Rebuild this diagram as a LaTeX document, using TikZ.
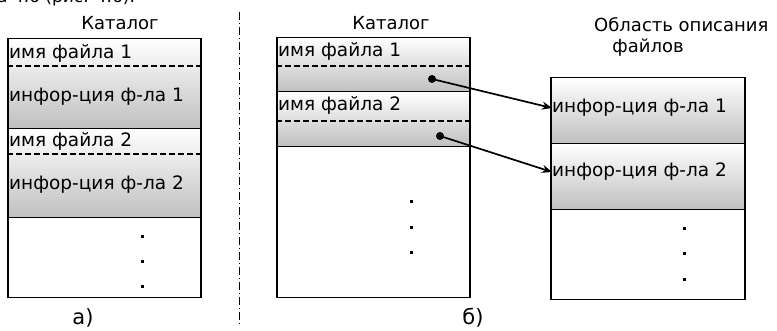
\documentclass[tikz,border=0pt]{standalone}
\usepackage{fontspec}
\setmainfont{DejaVu Sans}
\usetikzlibrary{arrows.meta}
\tikzset{
  lbl/.style={font=\fontsize{18.5}{21}\selectfont, inner sep=0pt},
  ttl/.style={font=\fontsize{18}{21}\selectfont, inner sep=0pt},
  sub/.style={font=\fontsize{21}{24}\selectfont, inner sep=0pt},
  entry/.style={draw, line width=1.5pt, top color=white, bottom color=black!25, minimum width=#1, anchor=north west, inner sep=0pt},
  blank/.style={draw, line width=1.5pt, fill=white, minimum width=#1, anchor=north west, inner sep=0pt},
  sep/.style={line width=1.1pt, dash pattern=on 6pt off 3pt},
  dotmark/.style={fill=black, minimum size=3pt, inner sep=0pt},
  ptr/.style={line width=1.7pt, -{Stealth[length=10pt, width=8pt]}},
}
\begin{document}
\begin{tikzpicture}[x=1pt, y=-1pt]
\useasboundingbox (0,0) rectangle (777,331);
% running text of the page above, cut by the frame
\begin{scope}
\clip (0,0) rectangle (777,331);
\node[font=\fontsize{17}{20}\selectfont, anchor=base west, inner sep=0pt] (page) at (-3,3) {а 4.6 (рис. 4.6).};
\end{scope}

% ---- a) catalogue with embedded descriptions ----
\node[ttl] (ta) at (120,23) {Каталог};
\node[entry=193pt, minimum height=90pt] (a1) at (7,38) {};
\node[entry=193pt, minimum height=89pt] (a2) at (7,128) {};
\node[blank=193pt, minimum height=80pt] (a3) at (7,217) {};
\draw[sep] (7,66) -- (200,66);
\draw[sep] (7,154) -- (200,154);
\node[lbl, anchor=west] (an1) at (9,53) {имя файла 1};
\node[lbl, anchor=west] (ai1) at (9,97) {инфор-ция ф-ла 1};
\node[lbl, anchor=west] (an2) at (9,141) {имя файла 2};
\node[lbl, anchor=west] (ai2) at (9,185) {инфор-ция ф-ла 2};
\node[dotmark] (ad1) at (142,237) {};
\node[dotmark] (ad2) at (142,262) {};
\node[dotmark] (ad3) at (142,287) {};
\node[sub] (la) at (83,318) {а)};

% ---- dividing line ----
\coordinate (d1) at (239,12);
\coordinate (d2) at (239,326);
\draw[line width=0.9pt, dash pattern=on 8pt off 3pt on 1pt off 3pt] (d1) -- (d2);

% ---- b) catalogue with pointers ----
\node[ttl] (tb) at (391,23) {Каталог};
\node[entry=193pt, minimum height=54pt] (b1) at (276,37) {};
\node[entry=193pt, minimum height=55pt] (b2) at (276,91) {};
\node[blank=193pt, minimum height=151pt] (b3) at (276,146) {};
\draw[sep] (276,66) -- (469,66);
\draw[sep] (276,121) -- (469,121);
\node[lbl, anchor=west] (bn1) at (278,51) {имя файла 1};
\node[lbl, anchor=west] (bn2) at (278,105) {имя файла 2};
\node[dotmark] (bd1) at (411,202) {};
\node[dotmark] (bd2) at (411,228) {};
\node[dotmark] (bd3) at (411,253) {};
\node[sub] (lb) at (473,318) {б)};

% ---- file description area ----
\node[ttl, anchor=west] (tc1) at (594,25) {Область описания};
\node[ttl] (tc2) at (648,48) {файлов};
\node[entry=194pt, minimum height=66pt] (c1) at (550,77) {};
\node[entry=194pt, minimum height=66pt] (c2) at (550,143) {};
\node[blank=194pt, minimum height=90pt] (c3) at (550,209) {};
\node[lbl, anchor=west] (ci1) at (552,108) {инфор-ция ф-ла 1};
\node[lbl, anchor=west] (ci2) at (552,172) {инфор-ция ф-ла 2};
\node[dotmark] (cd1) at (684,229) {};
\node[dotmark] (cd2) at (684,254) {};
\node[dotmark] (cd3) at (684,280) {};

% ---- pointers ----
\node[circle, fill=black, minimum size=8pt, inner sep=0pt] (p1) at (432,79) {};
\node[circle, fill=black, minimum size=8pt, inner sep=0pt] (p2) at (440,136) {};
\draw[ptr] (p1.center) -- (ci1.west);
\draw[ptr] (p2.center) -- (ci2.west);
\end{tikzpicture}
\end{document}
